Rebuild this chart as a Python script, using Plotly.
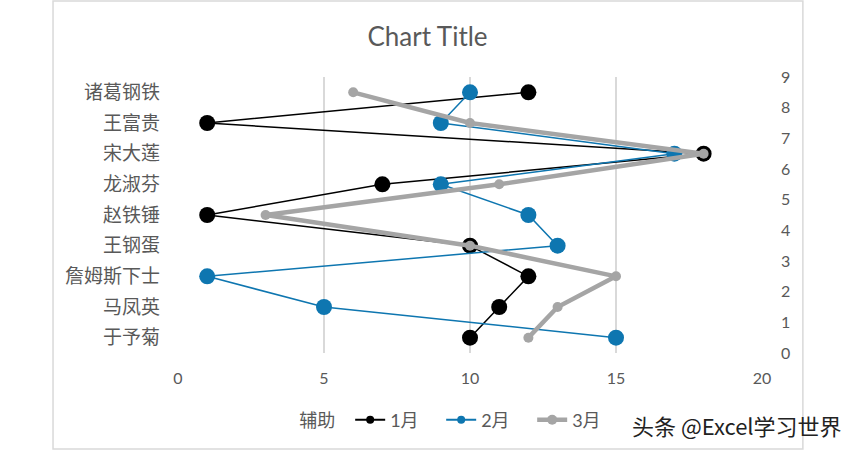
import plotly.graph_objects as go

# categories from bottom to top, placed at 0.5, 1.5, ...
names = ['于予菊', '马凤英', '詹姆斯下士', '王钢蛋', '赵铁锤', '龙淑芬', '宋大莲', '王富贵', '诸葛钢铁']
pos = [0.5, 1.5, 2.5, 3.5, 4.5, 5.5, 6.5, 7.5, 8.5]

jan = [10, 11, 12, 10, 1, 7, 18, 1, 12]
feb = [15, 5, 1, 13, 12, 9, 17, 9, 10]
mar = [12, 13, 15, 10, 3, 11, 18, 10, 6]

font = 'Lato, Noto Sans CJK SC'
grey_txt = '#595959'

series = [
    ('1月', jan, '#000000', 1.5, 16, 8),
    ('2月', feb, '#0e76b0', 1.5, 16, 8),
    ('3月', mar, '#a5a5a5', 4.5, 10, 10),
]

fig = go.Figure()

# helper series, invisible, only shows up in legend
fig.add_trace(go.Scatter(x=[None], y=[None], name='辅助', mode='lines',
                         line=dict(color='rgba(0,0,0,0)')))

for name, vals, color, lw, ms, leg_ms in series:
    fig.add_trace(go.Scatter(x=vals, y=pos, name=name, mode='lines+markers', yaxis='y2',
                             line=dict(color=color, width=lw),
                             marker=dict(color=color, size=ms),
                             legendgroup=name, showlegend=False))
    # legend entry with the small excel-style marker
    fig.add_trace(go.Scatter(x=[None], y=[None], name=name, mode='lines+markers', yaxis='y2',
                             line=dict(color=color, width=max(lw, 2)),
                             marker=dict(color=color, size=leg_ms),
                             legendgroup=name))

fig.update_layout(
    width=855, height=452,
    margin=dict(l=178, r=93, t=77, b=99),
    paper_bgcolor='white', plot_bgcolor='white',
    font=dict(family=font, color=grey_txt, size=14),
    title=dict(text='Chart Title', x=0.5, xanchor='center', y=0.918, yanchor='middle',
               font=dict(size=26, color=grey_txt)),
    xaxis=dict(range=[0, 20], dtick=5, showgrid=True, gridcolor='#d9d9d9', gridwidth=1.5,
               zeroline=False, showline=False, ticks='', tickfont=dict(size=16),
               ticklabelstandoff=14),
    yaxis=dict(range=[0, 9], tickvals=pos, ticktext=names, showgrid=False, zeroline=False,
               showline=False, ticks='', tickfont=dict(size=19), ticklabelstandoff=17),
    yaxis2=dict(range=[0, 9], dtick=1, overlaying='y', side='right', showgrid=False,
                zeroline=False, showline=False, ticks='', tickfont=dict(size=16),
                ticklabelstandoff=18),
    showlegend=True,
    legend=dict(orientation='h', x=0.139, xanchor='left', y=-0.243, yanchor='middle',
                font=dict(size=18), bgcolor='rgba(0,0,0,0)', traceorder='normal',
                entrywidth=46),
    shapes=[dict(type='rect', xref='paper', yref='paper', x0=-0.214, x1=1.07,
                 y0=-0.348, y1=1.275, line=dict(color='#d9d9d9', width=1.5))],
    annotations=[dict(text='头条 @Excel学习世界', xref='paper', yref='paper',
                      x=1.14, y=-0.262, xanchor='right', yanchor='middle', showarrow=False,
                      font=dict(family='Noto Sans CJK SC', size=22, color='#222222'))],
)

# page body has a default 8px margin, drop it so the chart sits at 0,0
fig.write_html('out.html', config={'displayModeBar': False},
               post_script="document.body.style.margin='0';")
